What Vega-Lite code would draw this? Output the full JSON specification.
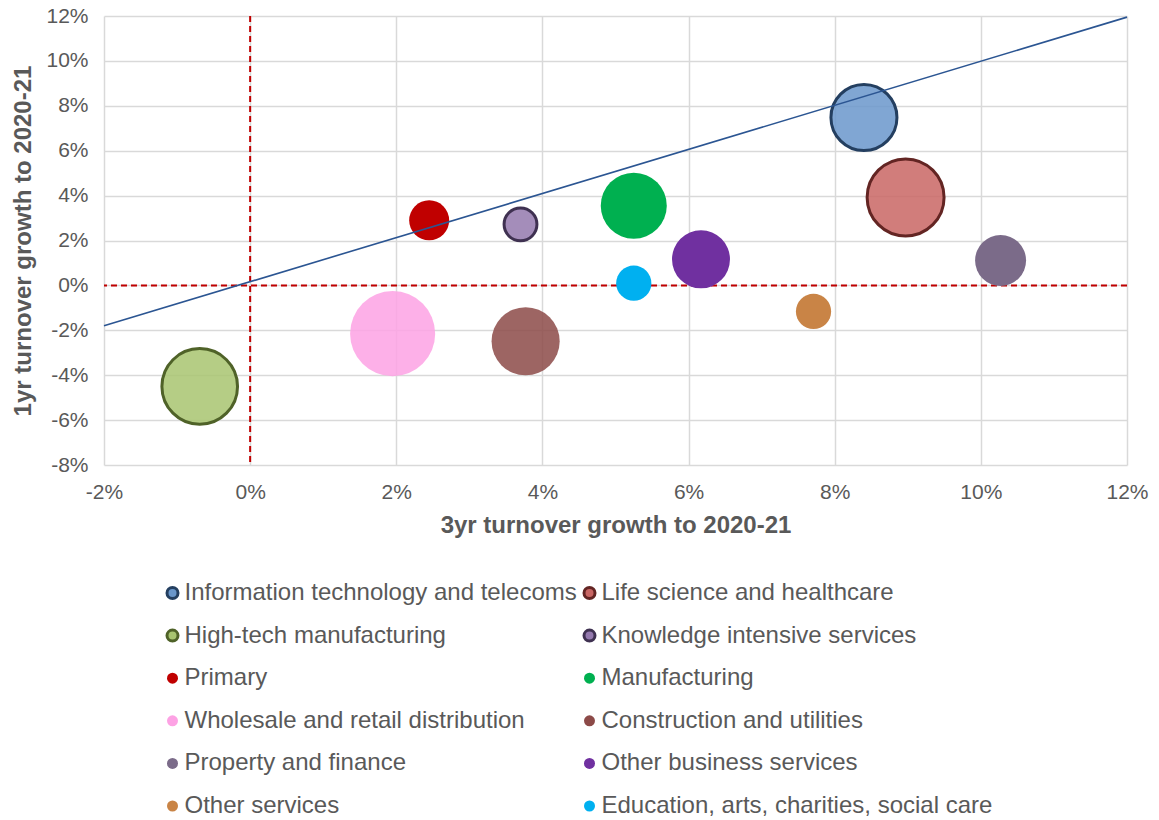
{
  "$schema": "https://vega.github.io/schema/vega-lite/v6.json",
  "width": 1023,
  "height": 449,
  "autosize": {"type": "none"},
  "padding": {"left": 104, "top": 16, "right": 32, "bottom": 355},
  "background": "white",
  "config": {
    "font": "Liberation Sans",
    "view": {"stroke": null},
    "axis": {
      "grid": true,
      "gridColor": "#D9D9D9",
      "gridWidth": 1.5,
      "domain": false,
      "ticks": false,
      "tickSize": 0,
      "labelFlush": false,
      "labelFont": "Liberation Sans",
      "labelFontSize": 21,
      "labelColor": "#595959",
      "titleFont": "Liberation Sans",
      "titleFontSize": 24,
      "titleFontWeight": "bold",
      "titleColor": "#595959"
    }
  },
  "layer": [
    {
      "data": {"values": [{"v": 0}]},
      "mark": {"type": "rule", "color": "#C00000", "strokeWidth": 2, "strokeDash": [6, 4]},
      "encoding": {"x": {"field": "v", "type": "quantitative", "title": "3yr turnover growth to 2020-21"}}
    },
    {
      "data": {"values": [{"v": 0}]},
      "mark": {"type": "rule", "color": "#C00000", "strokeWidth": 2, "strokeDash": [6, 4]},
      "encoding": {"y": {"field": "v", "type": "quantitative", "title": "1yr turnover growth to 2020-21"}}
    },
    {
      "data": {
        "values": [
          {"sector": "Information technology and telecoms", "growth3": 8.40, "growth1": 7.48, "weight": 10.9},
          {"sector": "Life science and healthcare", "growth3": 8.97, "growth1": 3.92, "weight": 14.8},
          {"sector": "High-tech manufacturing", "growth3": -0.69, "growth1": -4.50, "weight": 14.3},
          {"sector": "Knowledge intensive services", "growth3": 3.70, "growth1": 2.72, "weight": 2.7},
          {"sector": "Primary", "growth3": 2.45, "growth1": 2.90, "weight": 4.0},
          {"sector": "Manufacturing", "growth3": 5.25, "growth1": 3.55, "weight": 10.9},
          {"sector": "Wholesale and retail distribution", "growth3": 1.95, "growth1": -2.15, "weight": 18.1},
          {"sector": "Construction and utilities", "growth3": 3.77, "growth1": -2.49, "weight": 11.6},
          {"sector": "Property and finance", "growth3": 10.27, "growth1": 1.11, "weight": 6.5},
          {"sector": "Other business services", "growth3": 6.17, "growth1": 1.16, "weight": 8.4},
          {"sector": "Other services", "growth3": 7.71, "growth1": -1.16, "weight": 3.1},
          {"sector": "Education, arts, charities, social care", "growth3": 5.25, "growth1": 0.10, "weight": 3.1}
        ]
      },
      "mark": {"type": "circle", "opacity": 1},
      "encoding": {
        "x": {
          "field": "growth3", "type": "quantitative",
          "title": "3yr turnover growth to 2020-21",
          "scale": {"domain": [-2, 12], "nice": false, "zero": false},
          "axis": {
            "values": [-2, 0, 2, 4, 6, 8, 10, 12],
            "labelExpr": "toString(datum.value) + '%'",
            "labelPadding": 16,
            "titlePadding": 11
          }
        },
        "y": {
          "field": "growth1", "type": "quantitative",
          "title": "1yr turnover growth to 2020-21",
          "scale": {"domain": [-8, 12], "nice": false, "zero": false},
          "axis": {
            "values": [-8, -6, -4, -2, 0, 2, 4, 6, 8, 10, 12],
            "labelExpr": "toString(datum.value) + '%'",
            "labelPadding": 16,
            "titlePadding": 10
          }
        },
        "size": {
          "field": "weight", "type": "quantitative",
          "scale": {"type": "linear", "domain": [0, 20], "range": [0, 8000]},
          "legend": null
        },
        "fill": {
          "field": "sector", "type": "nominal",
          "scale": {
            "domain": ["Information technology and telecoms", "High-tech manufacturing", "Primary", "Wholesale and retail distribution", "Property and finance", "Other services", "Life science and healthcare", "Knowledge intensive services", "Manufacturing", "Construction and utilities", "Other business services", "Education, arts, charities, social care"],
            "range": ["#6A97CB", "#A8C470", "#C00000", "#FDA2E4", "#7B6B89", "#C98446", "#C96664", "#9479AE", "#00B050", "#8C4A48", "#7030A0", "#00B0F0"]
          },
          "legend": {
            "title": null,
            "orient": "none",
            "legendX": 56.5,
            "legendY": 565,
            "columns": 2,
            "padding": 0,
            "labelFont": "Liberation Sans",
            "labelFontSize": 24,
            "labelColor": "#595959",
            "labelLimit": 700,
            "labelOffset": 0,
            "symbolType": "circle",
            "symbolSize": 121,
            "symbolStrokeWidth": 2.5,
            "rowPadding": 18.6,
            "columnPadding": 0
          }
        },
        "stroke": {
          "field": "sector", "type": "nominal",
          "scale": {
            "domain": ["Information technology and telecoms", "High-tech manufacturing", "Primary", "Wholesale and retail distribution", "Property and finance", "Other services", "Life science and healthcare", "Knowledge intensive services", "Manufacturing", "Construction and utilities", "Other business services", "Education, arts, charities, social care"],
            "range": ["#243F60", "#4F6228", "#C00000", "#FDA2E4", "#7B6B89", "#C98446", "#632523", "#3F3151", "#00B050", "#8C4A48", "#7030A0", "#00B0F0"]
          }
        },
        "strokeWidth": {
          "field": "sector", "type": "nominal",
          "scale": {
            "type": "ordinal",
            "domain": ["Information technology and telecoms", "High-tech manufacturing", "Primary", "Wholesale and retail distribution", "Property and finance", "Other services", "Life science and healthcare", "Knowledge intensive services", "Manufacturing", "Construction and utilities", "Other business services", "Education, arts, charities, social care"],
            "range": [3, 3, 0, 0, 0, 0, 3, 3, 0, 0, 0, 0]
          },
          "legend": null
        },
        "fillOpacity": {
          "field": "sector", "type": "nominal",
          "scale": {
            "type": "ordinal",
            "domain": ["Information technology and telecoms", "High-tech manufacturing", "Primary", "Wholesale and retail distribution", "Property and finance", "Other services", "Life science and healthcare", "Knowledge intensive services", "Manufacturing", "Construction and utilities", "Other business services", "Education, arts, charities, social care"],
            "range": [0.85, 0.85, 1, 0.85, 1, 1, 0.85, 0.85, 1, 0.85, 1, 1]
          },
          "legend": null
        }
      }
    },
    {
      "data": {"values": [{"gx": -2, "gy": -1.8}, {"gx": 12, "gy": 11.95}]},
      "mark": {"type": "line", "color": "#2B5592", "strokeWidth": 1.6},
      "encoding": {
        "x": {"field": "gx", "type": "quantitative", "title": "3yr turnover growth to 2020-21"},
        "y": {"field": "gy", "type": "quantitative", "title": "1yr turnover growth to 2020-21"}
      }
    }
  ]
}
